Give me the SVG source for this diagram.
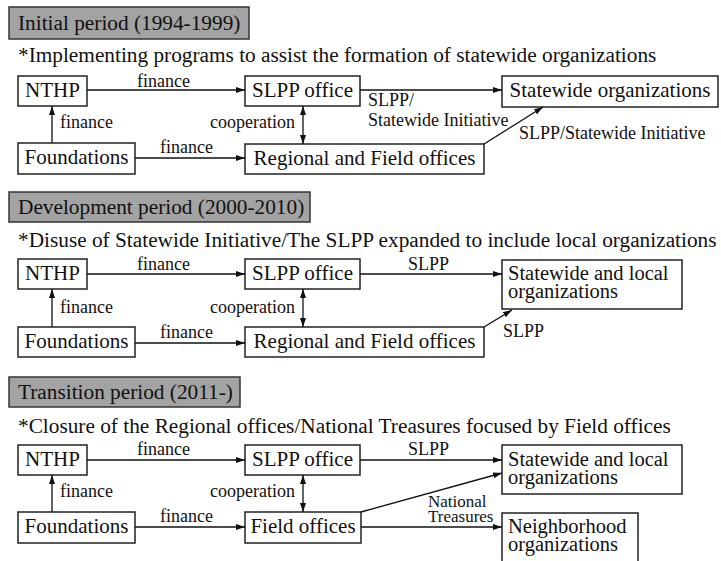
<svg xmlns="http://www.w3.org/2000/svg" width="721" height="561" viewBox="0 0 721 561">
<style>
text{font-family:"Liberation Serif","Times New Roman",serif;fill:#111}
.h{font-size:21.3px}
.s{font-size:21.3px}
.n{font-size:21px}
.n2{font-size:20.5px}
.l{font-size:18px}
.l2{font-size:17px}
.box{fill:#fff;stroke:#222;stroke-width:1.5}
.hdr{fill:#a3a3a3;stroke:#333;stroke-width:1.5}
.c{stroke:#111;stroke-width:1.3;fill:none;marker-end:url(#ah)}
.d{marker-start:url(#ah)}
.m{text-anchor:middle}
</style>
<defs>
<marker id="ah" viewBox="0 0 9 6" refX="9" refY="3" markerWidth="9" markerHeight="6" markerUnits="userSpaceOnUse" orient="auto-start-reverse">
<path d="M0,0 L9,3 L0,6 z" fill="#111"/>
</marker>
</defs>

<!-- Section 1 -->
<g id="hdr1"><rect class="hdr" x="9" y="7" width="240" height="32"/><text class="h" x="18" y="30">Initial period (1994-1999)</text></g>
<text class="s" x="18" y="62">*Implementing programs to assist the formation of statewide organizations</text>
<g id="nthp1"><rect class="box" x="18" y="76" width="69" height="30"/><text class="n m" x="52.5" y="97">NTHP</text></g>
<g id="slpp1"><rect class="box" x="245" y="76" width="115" height="30"/><text class="n m" x="302.5" y="97">SLPP office</text></g>
<g id="state1"><rect class="box" x="502" y="76" width="216" height="31"/><text class="n m" x="610" y="97">Statewide organizations</text></g>
<g id="found1"><rect class="box" x="18" y="143" width="117" height="31"/><text class="n m" x="76.5" y="164">Foundations</text></g>
<g id="reg1"><rect class="box" x="245" y="144" width="239" height="30"/><text class="n m" x="364.5" y="165">Regional and Field offices</text></g>

<!-- Section 2 -->
<g id="hdr2"><rect class="hdr" x="9" y="192" width="301" height="30"/><text class="h" x="18" y="214">Development period (2000-2010)</text></g>
<text class="s" x="18" y="247">*Disuse of Statewide Initiative/The SLPP expanded to include local organizations</text>
<g id="nthp2"><rect class="box" x="18" y="259" width="69" height="30"/><text class="n m" x="52.5" y="280">NTHP</text></g>
<g id="slpp2"><rect class="box" x="245" y="259" width="115" height="30"/><text class="n m" x="302.5" y="280">SLPP office</text></g>
<g id="state2"><rect class="box" x="502" y="260" width="180" height="49"/><text class="n2" x="508" y="280">Statewide and local<tspan x="508" dy="18">organizations</tspan></text></g>
<g id="found2"><rect class="box" x="18" y="327" width="117" height="30"/><text class="n m" x="76.5" y="348">Foundations</text></g>
<g id="reg2"><rect class="box" x="245" y="327" width="239" height="30"/><text class="n m" x="364.5" y="348">Regional and Field offices</text></g>

<!-- Section 3 -->
<g id="hdr3"><rect class="hdr" x="9" y="377" width="231" height="30"/><text class="h" x="18" y="399">Transition period (2011-)</text></g>
<text class="s" x="18" y="433">*Closure of the Regional offices/National Treasures focused by Field offices</text>
<g id="nthp3"><rect class="box" x="18" y="445" width="69" height="30"/><text class="n m" x="52.5" y="466">NTHP</text></g>
<g id="slpp3"><rect class="box" x="245" y="445" width="115" height="30"/><text class="n m" x="302.5" y="466">SLPP office</text></g>
<g id="state3"><rect class="box" x="502" y="445" width="180" height="49"/><text class="n2" x="508" y="466">Statewide and local<tspan x="508" dy="18">organizations</tspan></text></g>
<g id="found3"><rect class="box" x="18" y="512" width="117" height="31"/><text class="n m" x="76.5" y="533">Foundations</text></g>
<g id="field3"><rect class="box" x="245" y="512" width="116" height="31"/><text class="n m" x="303" y="533">Field offices</text></g>
<g id="neigh3"><rect class="box" x="502" y="513" width="136" height="60"/><text class="n2" x="508" y="533">Neighborhood<tspan x="508" dy="18">organizations</tspan></text></g>

<g id="connectors">
<!-- section 1 -->
<line class="c" x1="87" y1="90" x2="245" y2="90"/>
<line class="c" x1="52" y1="143" x2="52" y2="106"/>
<line class="c d" x1="303" y1="106" x2="303" y2="144"/>
<line class="c" x1="135" y1="158" x2="245" y2="158"/>
<line class="c" x1="360" y1="90" x2="502" y2="90"/>
<line class="c" x1="484" y1="144" x2="543" y2="107"/>
<!-- section 2 -->
<line class="c" x1="87" y1="274" x2="245" y2="274"/>
<line class="c" x1="52" y1="327" x2="52" y2="289"/>
<line class="c d" x1="303" y1="289" x2="303" y2="327"/>
<line class="c" x1="135" y1="343" x2="245" y2="343"/>
<line class="c" x1="360" y1="274" x2="502" y2="274"/>
<line class="c" x1="484" y1="327" x2="512" y2="310"/>
<!-- section 3 -->
<line class="c" x1="87" y1="460" x2="245" y2="460"/>
<line class="c" x1="52" y1="512" x2="52" y2="475"/>
<line class="c d" x1="303" y1="475" x2="303" y2="512"/>
<line class="c" x1="135" y1="527" x2="245" y2="527"/>
<line class="c" x1="360" y1="460" x2="502" y2="460"/>
<line class="c" x1="361" y1="512" x2="502" y2="473"/>
<line class="c" x1="361" y1="527" x2="502" y2="527"/>
</g>

<g id="labels">
<text class="l" x="137" y="87">finance</text>
<text class="l" x="60" y="128">finance</text>
<text class="l" x="295" y="128" text-anchor="end">cooperation</text>
<text class="l" x="160" y="153">finance</text>
<text class="l" x="368" y="106">SLPP/<tspan x="368" dy="20">Statewide Initiative</tspan></text>
<text class="l" x="519" y="139">SLPP/Statewide Initiative</text>

<text class="l" x="137" y="270">finance</text>
<text class="l" x="60" y="313">finance</text>
<text class="l" x="295" y="313" text-anchor="end">cooperation</text>
<text class="l" x="160" y="338">finance</text>
<text class="l" x="408" y="270">SLPP</text>
<text class="l" x="503" y="337">SLPP</text>

<text class="l" x="137" y="455">finance</text>
<text class="l" x="60" y="497">finance</text>
<text class="l" x="295" y="497" text-anchor="end">cooperation</text>
<text class="l" x="160" y="522">finance</text>
<text class="l" x="408" y="455">SLPP</text>
<text class="l2" x="428" y="507">National<tspan x="428" dy="15">Treasures</tspan></text>
</g>
</svg>
